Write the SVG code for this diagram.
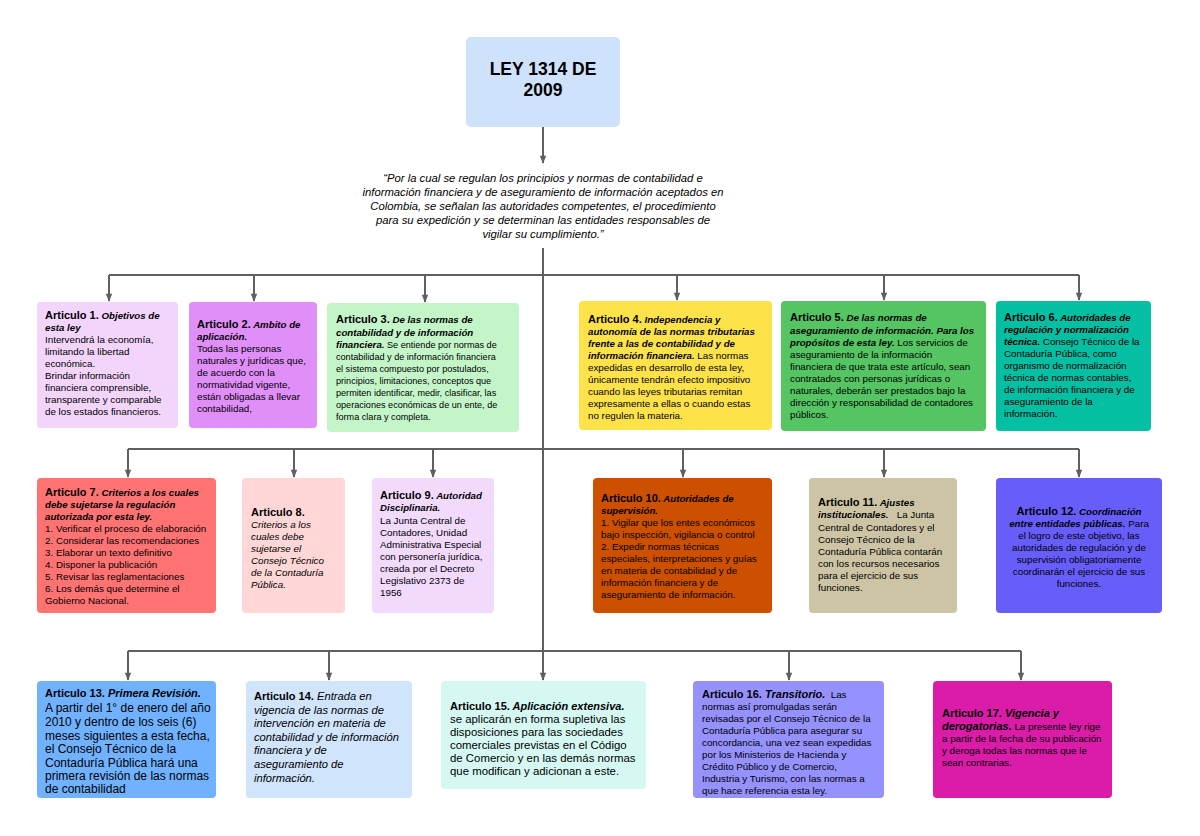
<svg xmlns="http://www.w3.org/2000/svg" width="1200" height="836" viewBox="0 0 1200 836">
<defs>
<marker id="ah" viewBox="0 0 10 10" refX="9" refY="5" markerWidth="9" markerHeight="8" markerUnits="userSpaceOnUse" orient="auto">
<path d="M0,1 L10,5 L0,9 Z" fill="#5f5f5f"/>
</marker>
<style>
text{font-family:"Liberation Sans",Arial,sans-serif;fill:#000;}
.t{font-size:17.5px;font-weight:bold;text-anchor:middle;}
.q{font-size:11.3px;font-style:italic;text-anchor:middle;}
.h{font-size:11px;font-weight:bold;}
.hi{font-size:9.7px;font-weight:bold;font-style:italic;}
.b{font-size:9.8px;}
.s3{font-size:9.1px;}
.l13{font-size:12px;}
.l14{font-size:11.2px;}
.l15{font-size:11.4px;}
.i{font-style:italic;}
.c{text-anchor:middle;}
.con{fill:none;stroke:#5f5f5f;stroke-width:2;}
</style>
</defs>
<rect width="1200" height="836" fill="#fff"/>

<g id="connectors">
<path class="con" d="M543,127 V163" marker-end="url(#ah)"/>
<path class="con" d="M543,248 V652"/>
<path class="con" d="M109,275 H1079"/>
<path class="con" d="M109,275 V301" marker-end="url(#ah)"/>
<path class="con" d="M254,275 V301" marker-end="url(#ah)"/>
<path class="con" d="M425,275 V302" marker-end="url(#ah)"/>
<path class="con" d="M677,275 V300" marker-end="url(#ah)"/>
<path class="con" d="M884,275 V300" marker-end="url(#ah)"/>
<path class="con" d="M1079,275 V300" marker-end="url(#ah)"/>
<path class="con" d="M128,449 H1079"/>
<path class="con" d="M128,449 V477" marker-end="url(#ah)"/>
<path class="con" d="M294,449 V477" marker-end="url(#ah)"/>
<path class="con" d="M433,449 V477" marker-end="url(#ah)"/>
<path class="con" d="M683,449 V477" marker-end="url(#ah)"/>
<path class="con" d="M884,449 V477" marker-end="url(#ah)"/>
<path class="con" d="M1079,449 V477" marker-end="url(#ah)"/>
<path class="con" d="M128,651 H1021"/>
<path class="con" d="M128,651 V680" marker-end="url(#ah)"/>
<path class="con" d="M329,651 V680" marker-end="url(#ah)"/>
<path class="con" d="M543,651 V680" marker-end="url(#ah)"/>
<path class="con" d="M789,651 V680" marker-end="url(#ah)"/>
<path class="con" d="M1021,651 V680" marker-end="url(#ah)"/>
</g>

<g id="title">
<rect x="466" y="37" width="154" height="90" rx="5" fill="#cfe2fc"/>
<text class="t" x="543" y="75">LEY 1314 DE</text>
<text class="t" x="543" y="96">2009</text>
</g>

<g id="quote">
<text class="q" x="543" y="182">“Por la cual se regulan los principios y normas de contabilidad e</text>
<text class="q" x="543" y="196">información financiera y de aseguramiento de información aceptados en</text>
<text class="q" x="543" y="210">Colombia, se señalan las autoridades competentes, el procedimiento</text>
<text class="q" x="543" y="224">para su expedición y se determinan las entidades responsables de</text>
<text class="q" x="543" y="238">vigilar su cumplimiento.”</text>
</g>

<g id="art1">
<rect x="37" y="302" width="141" height="126" rx="4" fill="#f3d5fb"/>
<text x="45" y="319"><tspan class="h">Articulo 1.</tspan><tspan class="hi"> Objetivos de</tspan></text>
<text x="45" y="331" class="hi">esta ley</text>
<text class="b" x="45" y="343">Intervendrá la economía,</text>
<text class="b" x="45" y="355">limitando la libertad</text>
<text class="b" x="45" y="367">económica.</text>
<text class="b" x="45" y="379">Brindar información</text>
<text class="b" x="45" y="391">financiera comprensible,</text>
<text class="b" x="45" y="403">transparente y comparable</text>
<text class="b" x="45" y="415">de los estados financieros.</text>
</g>

<g id="art2">
<rect x="189" y="302" width="128" height="126" rx="4" fill="#e08ff8"/>
<text x="197" y="328"><tspan class="h">Articulo 2.</tspan><tspan class="hi"> Ambito de</tspan></text>
<text x="197" y="340" class="hi">aplicación.</text>
<text class="b" x="197" y="352">Todas las personas</text>
<text class="b" x="197" y="364">naturales y jurídicas que,</text>
<text class="b" x="197" y="376">de acuerdo con la</text>
<text class="b" x="197" y="388">normatividad vigente,</text>
<text class="b" x="197" y="400">están obligadas a llevar</text>
<text class="b" x="197" y="412">contabilidad,</text>
</g>

<g id="art3">
<rect x="327" y="303" width="192" height="129" rx="4" fill="#c3f5c8"/>
<text x="336" y="323"><tspan class="h">Articulo 3.</tspan><tspan class="hi"> De las normas de</tspan></text>
<text x="336" y="336" class="hi">contabilidad y de información</text>
<text x="336" y="348"><tspan class="hi">financiera.</tspan><tspan class="s3"> Se entiende por normas de</tspan></text>
<text class="s3" x="336" y="360">contabilidad y de información financiera</text>
<text class="s3" x="336" y="372">el sistema compuesto por postulados,</text>
<text class="s3" x="336" y="384">principios, limitaciones, conceptos que</text>
<text class="s3" x="336" y="396">permiten identificar, medir, clasificar, las</text>
<text class="s3" x="336" y="408">operaciones económicas de un ente, de</text>
<text class="s3" x="336" y="420">forma clara y completa.</text>
</g>

<g id="art4">
<rect x="579" y="301" width="193" height="129" rx="4" fill="#fde24a"/>
<text x="588" y="323"><tspan class="h">Articulo 4.</tspan><tspan class="hi"> Independencia y</tspan></text>
<text x="588" y="335" class="hi">autonomía de las normas tributarias</text>
<text x="588" y="347" class="hi">frente a las de contabilidad y de</text>
<text x="588" y="359"><tspan class="hi">información financiera.</tspan><tspan class="b"> Las normas</tspan></text>
<text class="b" x="588" y="371">expedidas en desarrollo de esta ley,</text>
<text class="b" x="588" y="383">únicamente tendrán efecto impositivo</text>
<text class="b" x="588" y="395">cuando las leyes tributarias remitan</text>
<text class="b" x="588" y="407">expresamente a ellas o cuando estas</text>
<text class="b" x="588" y="419">no regulen la materia.</text>
</g>

<g id="art5">
<rect x="781" y="301" width="205" height="130" rx="4" fill="#55c463"/>
<text x="790" y="321"><tspan class="h">Articulo 5.</tspan><tspan class="hi"> De las normas de</tspan></text>
<text x="790" y="334" class="hi">aseguramiento de información. Para los</text>
<text x="790" y="346"><tspan class="hi">propósitos de esta ley.</tspan><tspan class="b"> Los servicios de</tspan></text>
<text class="b" x="790" y="358">aseguramiento de la información</text>
<text class="b" x="790" y="370">financiera de que trata este artículo, sean</text>
<text class="b" x="790" y="382">contratados con personas jurídicas o</text>
<text class="b" x="790" y="394">naturales, deberán ser prestados bajo la</text>
<text class="b" x="790" y="406">dirección y responsabilidad de contadores</text>
<text class="b" x="790" y="418">públicos.</text>
</g>

<g id="art6">
<rect x="996" y="301" width="155" height="130" rx="4" fill="#05bfa3"/>
<text x="1004" y="321"><tspan class="h">Articulo 6.</tspan><tspan class="hi"> Autoridades de</tspan></text>
<text x="1004" y="333" class="hi">regulación y normalización</text>
<text x="1004" y="345"><tspan class="hi">técnica.</tspan><tspan class="b"> Consejo Técnico de la</tspan></text>
<text class="b" x="1004" y="357">Contaduría Pública, como</text>
<text class="b" x="1004" y="369">organismo de normalización</text>
<text class="b" x="1004" y="381">técnica de normas contables,</text>
<text class="b" x="1004" y="393">de información financiera y de</text>
<text class="b" x="1004" y="405">aseguramiento de la</text>
<text class="b" x="1004" y="417">información.</text>
</g>

<g id="art7">
<rect x="37" y="478" width="179" height="135" rx="4" fill="#ff7373"/>
<text x="45" y="496"><tspan class="h">Articulo 7.</tspan><tspan class="hi"> Criterios a los cuales</tspan></text>
<text x="45" y="508" class="hi">debe sujetarse la regulación</text>
<text x="45" y="520" class="hi">autorizada por esta ley.</text>
<text class="b" x="45" y="532">1. Verificar el proceso de elaboración</text>
<text class="b" x="45" y="544">2. Considerar las recomendaciones</text>
<text class="b" x="45" y="556">3. Elaborar un texto definitivo</text>
<text class="b" x="45" y="568">4. Disponer la publicación</text>
<text class="b" x="45" y="580">5. Revisar las reglamentaciones</text>
<text class="b" x="45" y="592">6. Los demás que determine el</text>
<text class="b" x="45" y="604">Gobierno Nacional.</text>
</g>

<g id="art8">
<rect x="242" y="478" width="103" height="135" rx="4" fill="#ffd7d7"/>
<text class="h" x="251" y="516">Articulo 8.</text>
<text class="b i" x="251" y="528">Criterios a los</text>
<text class="b i" x="251" y="540">cuales debe</text>
<text class="b i" x="251" y="552">sujetarse el</text>
<text class="b i" x="251" y="564">Consejo Técnico</text>
<text class="b i" x="251" y="576">de la Contaduría</text>
<text class="b i" x="251" y="588">Pública.</text>
</g>

<g id="art9">
<rect x="372" y="478" width="122" height="135" rx="4" fill="#f2dafd"/>
<text x="380" y="499"><tspan class="h">Articulo 9.</tspan><tspan class="hi"> Autoridad</tspan></text>
<text x="380" y="511" class="hi">Disciplinaria.</text>
<text class="b" x="380" y="524">La Junta Central de</text>
<text class="b" x="380" y="536">Contadores, Unidad</text>
<text class="b" x="380" y="548">Administrativa Especial</text>
<text class="b" x="380" y="560">con personería jurídica,</text>
<text class="b" x="380" y="572">creada por el Decreto</text>
<text class="b" x="380" y="584">Legislativo 2373 de</text>
<text class="b" x="380" y="596">1956</text>
</g>

<g id="art10">
<rect x="593" y="478" width="179" height="135" rx="4" fill="#cc5000"/>
<text x="601" y="502"><tspan class="h">Articulo 10.</tspan><tspan class="hi"> Autoridades de</tspan></text>
<text x="601" y="514" class="hi">supervisión.</text>
<text class="b" x="601" y="526">1. Vigilar que los entes económicos</text>
<text class="b" x="601" y="538">bajo inspección, vigilancia o control</text>
<text class="b" x="601" y="550">2. Expedir normas técnicas</text>
<text class="b" x="601" y="562">especiales, interpretaciones y guías</text>
<text class="b" x="601" y="574">en materia de contabilidad y de</text>
<text class="b" x="601" y="586">información financiera y de</text>
<text class="b" x="601" y="598">aseguramiento de información.</text>
</g>

<g id="art11">
<rect x="809" y="478" width="148" height="135" rx="4" fill="#cdc4a5"/>
<text x="818" y="506"><tspan class="h">Articulo 11.</tspan><tspan class="hi"> Ajustes</tspan></text>
<text x="818" y="518"><tspan class="hi">institucionales.</tspan><tspan class="b" xml:space="preserve">   La Junta</tspan></text>
<text class="b" x="818" y="531">Central de Contadores y el</text>
<text class="b" x="818" y="543">Consejo Técnico de la</text>
<text class="b" x="818" y="555">Contaduría Pública contarán</text>
<text class="b" x="818" y="567">con los recursos necesarios</text>
<text class="b" x="818" y="579">para el ejercicio de sus</text>
<text class="b" x="818" y="591">funciones.</text>
</g>

<g id="art12">
<rect x="996" y="478" width="166" height="135" rx="4" fill="#675dfb"/>
<text class="c" x="1079" y="515"><tspan class="h">Articulo 12.</tspan><tspan class="hi"> Coordinación</tspan></text>
<text class="c" x="1079" y="527"><tspan class="hi">entre entidades públicas.</tspan><tspan class="b"> Para</tspan></text>
<text class="b c" x="1079" y="539">el logro de este objetivo, las</text>
<text class="b c" x="1079" y="551">autoridades de regulación y de</text>
<text class="b c" x="1079" y="563">supervisión obligatoriamente</text>
<text class="b c" x="1079" y="575">coordinarán el ejercicio de sus</text>
<text class="b c" x="1079" y="587">funciones.</text>
</g>

<g id="art13">
<rect x="37" y="681" width="179" height="117" rx="4" fill="#70b2ff"/>
<text x="45" y="697"><tspan class="h">Articulo 13.</tspan><tspan class="h i"> Primera Revisión.</tspan></text>
<text class="l13" x="45" y="712">A partir del 1° de enero del año</text>
<text class="l13" x="45" y="726">2010 y dentro de los seis (6)</text>
<text class="l13" x="45" y="740">meses siguientes a esta fecha,</text>
<text class="l13" x="45" y="753">el Consejo Técnico de la</text>
<text class="l13" x="45" y="767">Contaduría Pública hará una</text>
<text class="l13" x="45" y="780">primera revisión de las normas</text>
<text class="l13" x="45" y="793">de contabilidad</text>
</g>

<g id="art14">
<rect x="246" y="681" width="166" height="117" rx="4" fill="#d0e4fc"/>
<text x="254" y="700"><tspan class="h">Articulo 14.</tspan><tspan class="l14 i"> Entrada en</tspan></text>
<text class="l14 i" x="254" y="714">vigencia de las normas de</text>
<text class="l14 i" x="254" y="727">intervención en materia de</text>
<text class="l14 i" x="254" y="741">contabilidad y de información</text>
<text class="l14 i" x="254" y="754">financiera y de</text>
<text class="l14 i" x="254" y="768">aseguramiento de</text>
<text class="l14 i" x="254" y="782">información.</text>
</g>

<g id="art15">
<rect x="441" y="681" width="205" height="108" rx="4" fill="#d6f8f2"/>
<text x="450" y="710"><tspan class="h">Articulo 15.</tspan><tspan class="h i"> Aplicación extensiva.</tspan></text>
<text class="l15" x="450" y="723">se aplicarán en forma supletiva las</text>
<text class="l15" x="450" y="736">disposiciones para las sociedades</text>
<text class="l15" x="450" y="749">comerciales previstas en el Código</text>
<text class="l15" x="450" y="762">de Comercio y en las demás normas</text>
<text class="l15" x="450" y="775">que modifican y adicionan a este.</text>
</g>

<g id="art16">
<rect x="693" y="681" width="191" height="117" rx="4" fill="#9591fd"/>
<text x="702" y="698"><tspan class="h">Articulo 16.</tspan><tspan class="h i"> Transitorio.</tspan><tspan class="b" xml:space="preserve">  Las</tspan></text>
<text class="b" x="702" y="710">normas así promulgadas serán</text>
<text class="b" x="702" y="722">revisadas por el Consejo Técnico de la</text>
<text class="b" x="702" y="734">Contaduría Pública para asegurar su</text>
<text class="b" x="702" y="746">concordancia, una vez sean expedidas</text>
<text class="b" x="702" y="758">por los Ministerios de Hacienda y</text>
<text class="b" x="702" y="770">Crédito Público y de Comercio,</text>
<text class="b" x="702" y="782">Industria y Turismo, con las normas a</text>
<text class="b" x="702" y="794">que hace referencia esta ley.</text>
</g>

<g id="art17">
<rect x="933" y="681" width="179" height="117" rx="4" fill="#da1ca8"/>
<text x="942" y="717"><tspan class="h">Articulo 17.</tspan><tspan class="h i"> Vigencia y</tspan></text>
<text x="942" y="730"><tspan class="h i">derogatorias.</tspan><tspan class="b"> La presente ley rige</tspan></text>
<text class="b" x="942" y="742">a partir de la fecha de su publicación</text>
<text class="b" x="942" y="754">y deroga todas las normas que le</text>
<text class="b" x="942" y="766">sean contrarias.</text>
</g>
</svg>
